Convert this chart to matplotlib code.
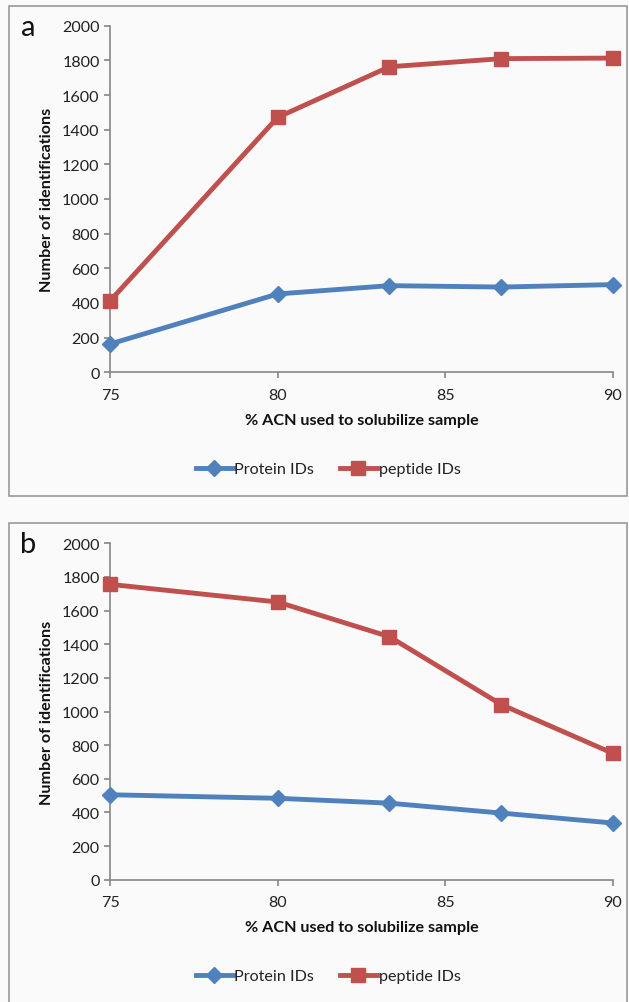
import matplotlib
matplotlib.use("Agg")
import matplotlib.pyplot as plt
from matplotlib.patches import Rectangle
from matplotlib.lines import Line2D

plt.rcParams['font.family'] = ['Lato', 'DejaVu Sans']

acn = [75, 80, 83.33, 86.67, 90]
protein_a = [163, 452, 500, 492, 506]
peptide_a = [412, 1471, 1763, 1810, 1813]
protein_b = [505, 484, 455, 396, 337]
peptide_b = [1756, 1651, 1445, 1041, 751]

xticks = [75, 80, 85, 90]
yticks = [0, 200, 400, 600, 800, 1000, 1200, 1400, 1600, 1800, 2000]

BLUE = '#4F81BD'
RED = '#C0504D'
GREY = '#868686'
BG = '#FAFAFA'

W, H = 629, 1003
fig = plt.figure(figsize=(W / 100, H / 100), dpi=100, facecolor=BG)

def px(x0, y0, x1, y1):
    return [x0 / W, 1 - y1 / H, (x1 - x0) / W, (y1 - y0) / H]

# panel frames
fig.patches.append(Rectangle((9 / W, 1 - 497 / H), (627 - 9) / W, (497 - 7) / H,
                             transform=fig.transFigure, fill=False, edgecolor='#999999', lw=1.2))
fig.patches.append(Rectangle((9 / W, -0.02), (627 - 9) / W, 0.02 + 1 - 524 / H,
                             transform=fig.transFigure, fill=False, edgecolor='#999999', lw=1.2))

panels = [
    (px(110, 26.7, 613, 373.3), protein_a, peptide_a, 'a', 28, 470),
    (px(110, 544.3, 613, 880.7), protein_b, peptide_b, 'b', 545, 977),
]

FS = 11.6

for rect, prot, pep, letter, ly, legy in panels:
    ax = fig.add_axes(rect)
    ax.set_facecolor(BG)
    ax.plot(acn, prot, color=BLUE, lw=3.5, marker='D', ms=8, mfc=BLUE, mec=BLUE,
            clip_on=False, zorder=3, label='Protein IDs')
    ax.plot(acn, pep, color=RED, lw=3.5, marker='s', ms=10, mfc=RED, mec=RED,
            clip_on=False, zorder=3, label='peptide IDs')
    ax.set_xlim(75, 90)
    ax.set_ylim(0, 2000)
    ax.set_xticks(xticks)
    ax.set_yticks(yticks)
    for s in ['top', 'right']:
        ax.spines[s].set_visible(False)
    for s in ['left', 'bottom']:
        ax.spines[s].set_color(GREY)
        ax.spines[s].set_linewidth(1.2)
    ax.tick_params(axis='both', colors=GREY, length=4, width=1.2, labelsize=FS,
                   labelcolor='#222222', direction='out')
    ax.tick_params(axis='x', pad=7)
    ax.set_xlabel('% ACN used to solubilize sample', fontsize=FS, fontweight='bold',
                  color='#111111', labelpad=8)
    ax.set_ylabel('Number of identifications', fontsize=FS, fontweight='bold',
                  color='#111111', labelpad=6)
    fig.text(28 / W, 1 - ly / H, letter, fontsize=21, ha='center', va='center', color='#111111')
    handles = [
        Line2D([], [], color=BLUE, lw=3.5, marker='D', ms=8),
        Line2D([], [], color=RED, lw=3.5, marker='s', ms=10),
    ]
    fig.legend(handles, ['Protein IDs', 'peptide IDs'], loc='center',
               bbox_to_anchor=(328 / W, 1 - legy / H), ncol=2, frameon=False,
               fontsize=FS, handlelength=2.3, handletextpad=0.1, columnspacing=1.6,
               labelcolor='#222222')

fig.savefig('out.png', dpi=100, facecolor=BG)
